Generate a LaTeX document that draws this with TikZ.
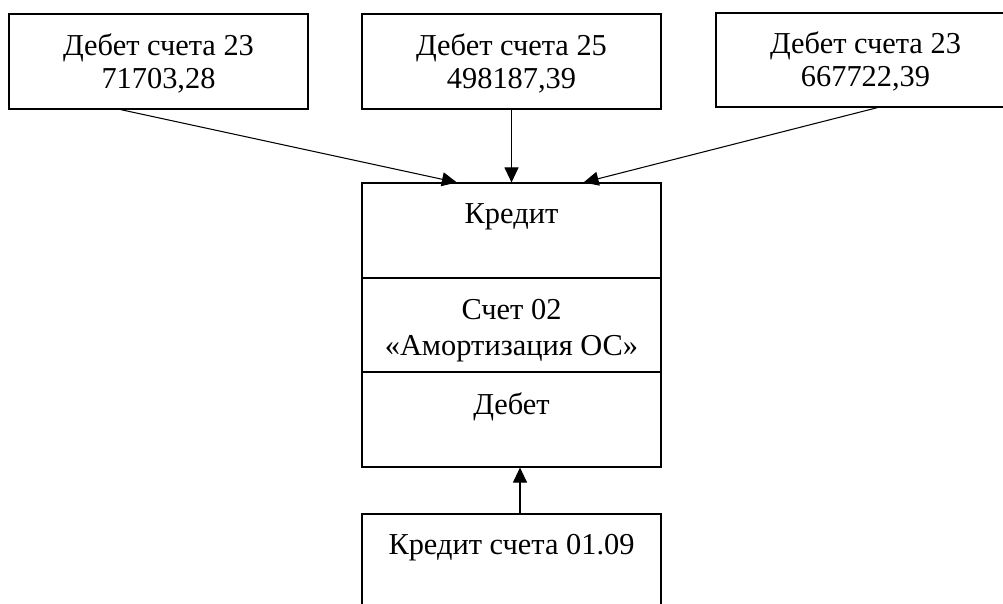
\documentclass[tikz,border=0pt]{standalone}
\usepackage{fontspec}
\setmainfont{Liberation Serif}
\usetikzlibrary{arrows.meta,calc}

\tikzset{
	schet/.style={draw, line width=0.7pt, minimum width=5.98cm, align=center, inner sep=0pt, font=\fontsize{17.3}{18.8}\selectfont},
	topline/.style={text height=23.2pt, text depth=30.8pt},
	provodka/.style={-{Triangle[length=0.3cm,width=0.28cm]}, line width=0.6pt}
}
\newcommand{\podnyat}[1]{\rule{0pt}{#1}}

\begin{document}
\begin{tikzpicture}[x=0.02cm,y=-0.02cm]
	\useasboundingbox (0,0) rectangle (1003,603);
	% korrespondiruyushchie scheta
	\node [schet, minimum height=1.9cm] (d23a) at (158.5,61.5) {\podnyat{14.5pt}Дебет счета 23\\71703,28};
	\node [schet, minimum height=1.9cm] (d25) at (511.5,61.5) {\podnyat{14.5pt}Дебет счета 25\\498187,39};
	\node [schet, minimum height=1.88cm] (d23b) at (865.5,60) {\podnyat{14.5pt}Дебет счета 23\\667722,39};
	% schet 02
	\node [schet, topline] (kredit) at (511.5,230.5) {Кредит};
	\node [schet, minimum height=1.88cm] (sch02) at (511.5,325) {\podnyat{17.5pt}Счет 02\\[1.7pt]«Амортизация ОС»};
	\node [schet, text height=24.2pt, text depth=29.8pt] (debet) at (511.5,419.5) {Дебет};
	\node [schet, topline] (k0109) at (511.5,561.5) {Кредит счета 01.09};
	% provodki
	\draw [provodka] ($(d23a.south west)!0.374!(d23a.south east)$) -- ($(kredit.north west)!0.318!(kredit.north east)$);
	\draw [provodka] (d25.south) -- (kredit.north);
	\draw [provodka] ($(d23b.south west)!0.54!(d23b.south east)$) -- ($(kredit.north west)!0.74!(kredit.north east)$);
	\draw [provodka] ([xshift=0.17cm]k0109.north) -- ([xshift=0.17cm]debet.south);
\end{tikzpicture}
\end{document}
